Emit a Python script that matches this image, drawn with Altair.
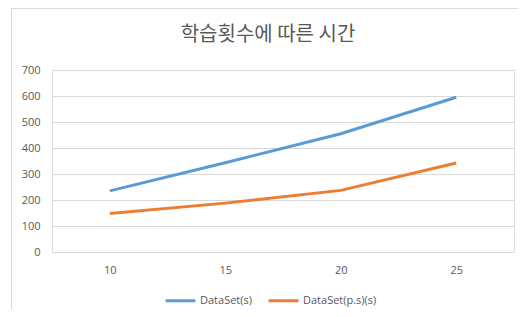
import altair as alt
import pandas as pd

counts = [10, 15, 20, 25]
dataset_s = [235, 343, 455, 595]
dataset_ps = [148, 188, 237, 342]
series_names = ["DataSet(s)", "DataSet(p.s)(s)"]
series_colors = ["#5B9BD5", "#ED7D31"]
y_ticks = [0, 100, 200, 300, 400, 500, 600, 700]
title_text = "학습횟수에 따른 시간"

rows = []
for name, vals in zip(series_names, [dataset_s, dataset_ps]):
    for c, v in zip(counts, vals):
        rows.append({"count": str(c), "value": v, "series": name})
df = pd.DataFrame(rows)

W, H = 462, 182

lines = alt.Chart(df).mark_line(strokeWidth=3).encode(
    x=alt.X("count:O", sort=[str(c) for c in counts],
            scale=alt.Scale(type="point", padding=0.5),
            axis=alt.Axis(title=None, labelAngle=0, ticks=False, tickSize=0,
                          domain=False, grid=False, labelPadding=12,
                          labelFont="Open Sans", labelFontSize=11,
                          labelColor="#595959")),
    y=alt.Y("value:Q", scale=alt.Scale(domain=[0, 700], nice=False),
            axis=alt.Axis(title=None, values=y_ticks, ticks=False, domain=False,
                          grid=True, gridColor="#d9d9d9", gridWidth=1,
                          labelPadding=12, labelFont="Open Sans", labelFontSize=11,
                          labelColor="#595959")),
    color=alt.Color("series:N",
                    scale=alt.Scale(domain=series_names, range=series_colors),
                    legend=alt.Legend(title=None, orient="none", direction="horizontal",
                                      legendX=112, legendY=214, symbolType="stroke",
                                      symbolSize=900, symbolStrokeWidth=3,
                                      labelFont="Open Sans", labelFontSize=11,
                                      labelColor="#595959", labelOffset=3,
                                      columnPadding=10, padding=0)),
)

title = alt.Chart(pd.DataFrame({"t": [title_text]})).mark_text(
    font="Noto Sans CJK KR", fontSize=20, color="#595959", baseline="middle",
    align="center"
).encode(text="t:N", x=alt.value(216), y=alt.value(-35))

border = alt.Chart(pd.DataFrame({"a": [0]})).mark_rect(
    fillOpacity=0, stroke="#d9d9d9", strokeWidth=1
).encode(x=alt.value(-40.5), x2=alt.value(480), y=alt.value(-61.5), y2=alt.value(260))

chart = alt.layer(border, lines, title).properties(
    width=W, height=H,
    autosize=alt.AutoSizeParams(type="none"),
    padding={"left": 44, "top": 62, "right": 4, "bottom": 57},
).configure_view(stroke=None).configure(background="white")

chart.save("out.html", embed_options={"renderer": "svg", "actions": False})
